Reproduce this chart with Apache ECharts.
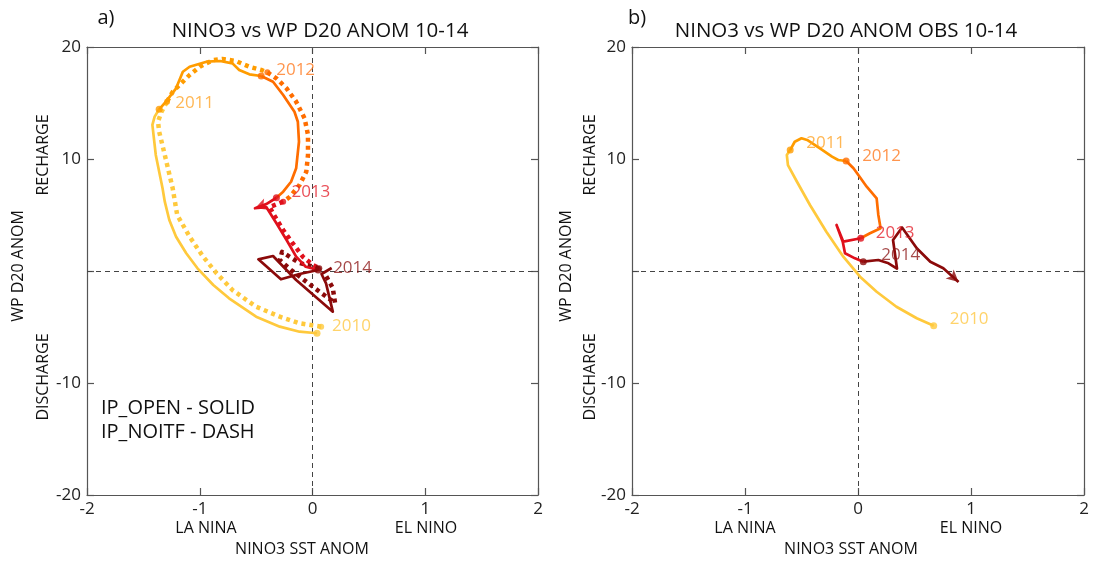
<!DOCTYPE html>
<html><head><meta charset="utf-8">
<script src="https://cdn.jsdelivr.net/npm/echarts@6/dist/echarts.min.js"></script>
<style>html,body{margin:0;padding:0;background:#fff}#c{width:1094px;height:563px}</style>
</head><body><div id="c"></div>
<script>
const years = ['2010','2011','2012','2013','2014'];
const xTicks = [-2, -1, 0, 1, 2];
const yTicks = [-20, -10, 0, 10, 20];

// Panel a: model IP_OPEN (solid)
const aSolid2010 = [[0.04,-5.56],[-0.115,-5.42],[-0.29,-4.97],[-0.50,-4.08],[-0.74,-2.44],[-0.88,-1.25],[-1.02,0.24],[-1.12,1.58],[-1.21,3.06],[-1.27,4.55],[-1.31,6.19],[-1.33,7.38],[-1.39,10.36],[-1.42,13.04],[-1.40,13.78]];
const aSolid2011 = [[-1.36,14.44],[-1.30,15.12],[-1.21,16.31],[-1.15,17.79],[-1.09,18.24],[-0.94,18.69],[-0.82,18.75],[-0.71,18.54],[-0.65,17.95],[-0.56,17.56]];
const aSolid2012 = [[-0.455,17.41],[-0.35,16.90],[-0.26,15.71],[-0.16,14.22],[-0.13,13.33],[-0.12,11.54],[-0.145,9.17],[-0.19,7.97],[-0.26,7.08]];
const aSolid2013 = [[-0.32,6.54],[-0.41,5.98],[-0.51,5.60],[-0.41,5.71],[-0.32,4.26],[-0.23,2.77],[-0.145,1.28],[-0.06,0.38]];
const aSolid2014 = [[0.05,0.09],[-0.115,-0.27],[-0.28,-0.74],[-0.48,1.04],[-0.35,1.34],[-0.145,-0.80],[0.18,-3.63],[0.12,-1.10],[0.08,-0.27],[0.17,0.27]];

// Panel a: model IP_NOITF (dash)
const aDash2010 = [[0.077,-4.97],[-0.115,-4.67],[-0.29,-4.08],[-0.50,-3.19],[-0.71,-1.70],[-0.85,-0.21],[-0.97,1.28],[-1.09,3.06],[-1.20,5.0],[-1.24,7.38],[-1.31,10.36],[-1.36,12.44],[-1.37,13.33],[-1.34,14.2]];
const aDash2011 = [[-1.29,15.12],[-1.24,16.0],[-1.15,16.9],[-1.09,17.5],[-1.0,18.24],[-0.88,18.84],[-0.80,18.93],[-0.68,18.75],[-0.56,18.24],[-0.455,17.95]];
const aDash2012 = [[-0.40,17.74],[-0.32,17.2],[-0.23,16.31],[-0.145,15.12],[-0.07,13.63],[-0.04,12.14],[-0.04,10.36],[-0.055,8.87],[-0.115,7.68],[-0.20,6.63]];
const aDash2013 = [[-0.26,6.19],[-0.38,5.71],[-0.35,5.15],[-0.26,3.66],[-0.175,2.47],[-0.086,1.28],[0.003,0.54]];
const aDash2014 = [[0.06,0.24],[-0.115,0.71],[-0.27,1.70],[-0.29,0.98],[-0.19,0.09],[0.018,-1.52],[0.20,-2.86],[0.18,-1.52],[0.115,-0.36]];

// Panel b: observations
const bObs2010 = [[0.67,-4.88],[0.52,-4.22],[0.34,-3.19],[0.165,-1.85],[0.018,-0.51],[-0.13,1.28],[-0.28,3.51],[-0.425,5.89],[-0.54,7.97],[-0.62,9.46],[-0.63,10.36]];
const bObs2011 = [[-0.60,10.80],[-0.56,11.54],[-0.50,11.85],[-0.45,11.70],[-0.34,10.96],[-0.23,10.21],[-0.175,9.91]];
const bObs2012 = [[-0.105,9.82],[-0.04,9.17],[0.003,8.57],[0.077,7.53],[0.165,6.49],[0.18,5.0],[0.20,3.81],[0.106,3.37]];
const bObs2013 = [[0.024,2.92],[-0.13,2.62],[-0.19,4.11],[-0.135,2.62],[-0.115,1.58],[-0.027,1.13]];
const bObs2014 = [[0.047,0.83],[0.18,0.98],[0.27,0.69],[0.345,0.22],[0.31,2.77],[0.39,3.88],[0.52,2.03],[0.64,0.83],[0.755,0.24],[0.89,-0.98]];

const lineColors  = ['#FFC93C','#FF9C00','#FF6D00','#E0101C','#8B0A0A'];
const labelColors = ['#FFC845','#FFA52A','#FF7A20','#E5232E','#8E1A1A'];

const FONT = 'Open Sans';
const aSolid = [aSolid2010,aSolid2011,aSolid2012,aSolid2013,aSolid2014];
const aDash  = [aDash2010,aDash2011,aDash2012,aDash2013,aDash2014];
const bObs   = [bObs2010,bObs2011,bObs2012,bObs2013,bObs2014];

function pathSeries(segs, axIdx, width, dashed, zBase) {
  const out = [];
  segs.forEach((seg, i) => {
    const pts = seg.concat(i < segs.length - 1 ? [segs[i+1][0]] : []);
    out.push({
      type: 'line', xAxisIndex: axIdx, yAxisIndex: axIdx, data: pts,
      symbol: 'none', smooth: false, animation: false, silent: true, z: zBase + i,
      lineStyle: { color: lineColors[i], width: width, type: dashed ? [4, 4] : 'solid', cap: 'butt', join: 'round' }
    });
  });
  return out;
}
function markerSeries(segs, axIdx, size) {
  return {
    type: 'scatter', xAxisIndex: axIdx, yAxisIndex: axIdx, animation: false, silent: true, z: 20,
    symbol: 'circle', symbolSize: size,
    data: segs.map((s, i) => ({ value: s[0], itemStyle: { color: lineColors[i] } }))
  };
}
function labelSeries(segs, axIdx, offsets) {
  return {
    type: 'scatter', xAxisIndex: axIdx, yAxisIndex: axIdx, animation: false, silent: true, z: 30,
    symbolSize: 0,
    data: segs.map((s, i) => ({
      value: s[0],
      label: { show: true, formatter: years[i], position: 'right', distance: 0, offset: offsets[i],
               color: labelColors[i], fontSize: 17, fontFamily: FONT }
    }))
  };
}
function zeroLines(axIdx) {
  return {
    type: 'line', xAxisIndex: axIdx, yAxisIndex: axIdx, data: [], silent: true, animation: false,
    markLine: { symbol: 'none', silent: true, animation: false, label: { show: false },
      lineStyle: { type: [5, 4], color: '#444', width: 1 },
      data: [{ xAxis: 0 }, { yAxis: 0 }] }
  };
}

function xAx(grid, pos, labels) {
  return {
    type: 'value', gridIndex: grid, position: pos, min: xTicks[0], max: xTicks[xTicks.length-1], interval: 1,
    axisLine: { show: true, onZero: false, lineStyle: { color: '#555', width: 1.2 } },
    axisTick: { show: true, inside: true, length: 7, lineStyle: { color: '#555', width: 1.2 } },
    axisLabel: { show: labels, color: '#222', fontSize: 17, fontFamily: FONT, margin: 6 },
    splitLine: { show: false }
  };
}
function yAx(grid, pos, labels) {
  return {
    type: 'value', gridIndex: grid, position: pos, min: yTicks[0], max: yTicks[yTicks.length-1], interval: 10,
    axisLine: { show: true, onZero: false, lineStyle: { color: '#555', width: 1.2 } },
    axisTick: { show: true, inside: true, length: 7, lineStyle: { color: '#555', width: 1.2 } },
    axisLabel: { show: labels, color: '#222', fontSize: 17, fontFamily: FONT, margin: 6,
                 formatter: v => (v === 0 ? '' : String(v)) },
    splitLine: { show: false }
  };
}

function txt(x, y, s, size, align) {
  return { type: 'text', x: x, y: y, silent: true,
    style: { text: s, fontSize: size, fontFamily: FONT, fill: '#111', align: align || 'center', verticalAlign: 'middle' } };
}
function vtxt(x, y, s, size) {
  return { type: 'text', x: x, y: y, rotation: Math.PI / 2, silent: true,
    style: { text: s, fontSize: size, fontFamily: FONT, fill: '#111', align: 'center', verticalAlign: 'middle' } };
}

const offA = [[15,-7],[16,-6],[15,-6],[15,-6],[15,-2]];
const offB = [[16,-6],[16,-7],[16,-5],[15,-5],[18,-7]];

const series = [].concat(
  [zeroLines(0)],
  pathSeries(aDash, 0, 4.5, true, 5),
  pathSeries(aSolid, 0, 2.7, false, 10),
  [markerSeries(aSolid, 0, 7), markerSeries(aDash, 0, 6), labelSeries(aSolid, 0, offA)],
  [zeroLines(2)],
  pathSeries(bObs, 2, 2.7, false, 10),
  [markerSeries(bObs, 2, 7), labelSeries(bObs, 2, offB)]
);

const graphic = [
  txt(106, 18, 'a)', 20),
  txt(320, 31, 'NINO3 vs WP D20 ANOM 10-14', 20.5),
  txt(637, 18, 'b)', 20),
  txt(846, 31, 'NINO3 vs WP D20 ANOM OBS 10-14', 20.5),
  txt(206, 528, 'LA NINA', 16), txt(426, 528, 'EL NINO', 16), txt(302, 549, 'NINO3 SST ANOM', 16),
  txt(745, 528, 'LA NINA', 16), txt(971, 528, 'EL NINO', 16), txt(851, 549, 'NINO3 SST ANOM', 16),
  vtxt(18, 266, 'WP D20 ANOM', 16), vtxt(43, 155, 'RECHARGE', 16), vtxt(43, 377, 'DISCHARGE', 16),
  vtxt(566, 266, 'WP D20 ANOM', 16), vtxt(590, 155, 'RECHARGE', 16), vtxt(590, 377, 'DISCHARGE', 16),
  txt(101, 408, 'IP_OPEN - SOLID', 20, 'left'), txt(101, 432, 'IP_NOITF - DASH', 20, 'left')
];

const chart = echarts.init(document.getElementById('c'), null, { renderer: 'canvas' });
chart.setOption({
  animation: false,
  backgroundColor: '#fff',
  grid: [
    { left: 87, top: 47, width: 451, height: 448, show: false },
    { left: 632, top: 47, width: 452, height: 448, show: false }
  ],
  xAxis: [xAx(0, 'bottom', true), xAx(0, 'top', false), xAx(1, 'bottom', true), xAx(1, 'top', false)],
  yAxis: [yAx(0, 'left', true), yAx(0, 'right', false), yAx(1, 'left', true), yAx(1, 'right', false)],
  series: series,
  graphic: graphic
});

// direction arrows computed from the data in pixel space
function arrowAt(axIdx, from, to, color) {
  const p0 = chart.convertToPixel({ xAxisIndex: axIdx, yAxisIndex: axIdx }, from);
  const p1 = chart.convertToPixel({ xAxisIndex: axIdx, yAxisIndex: axIdx }, to);
  const theta = Math.atan2(-(p1[1] - p0[1]), p1[0] - p0[0]) * 180 / Math.PI;
  return { type: 'scatter', xAxisIndex: axIdx, yAxisIndex: axIdx, silent: true, animation: false, z: 25,
    symbol: 'arrow', symbolSize: [9, 12], symbolRotate: theta - 90,
    data: [{ value: to, itemStyle: { color: color } }] };
}
const arrows = [
  arrowAt(0, aSolid2013[1], aSolid2013[2], lineColors[3]),
  arrowAt(2, bObs2014[bObs2014.length-2], bObs2014[bObs2014.length-1], lineColors[4])
];
chart.setOption({ series: series.concat(arrows) });
</script></body></html>
